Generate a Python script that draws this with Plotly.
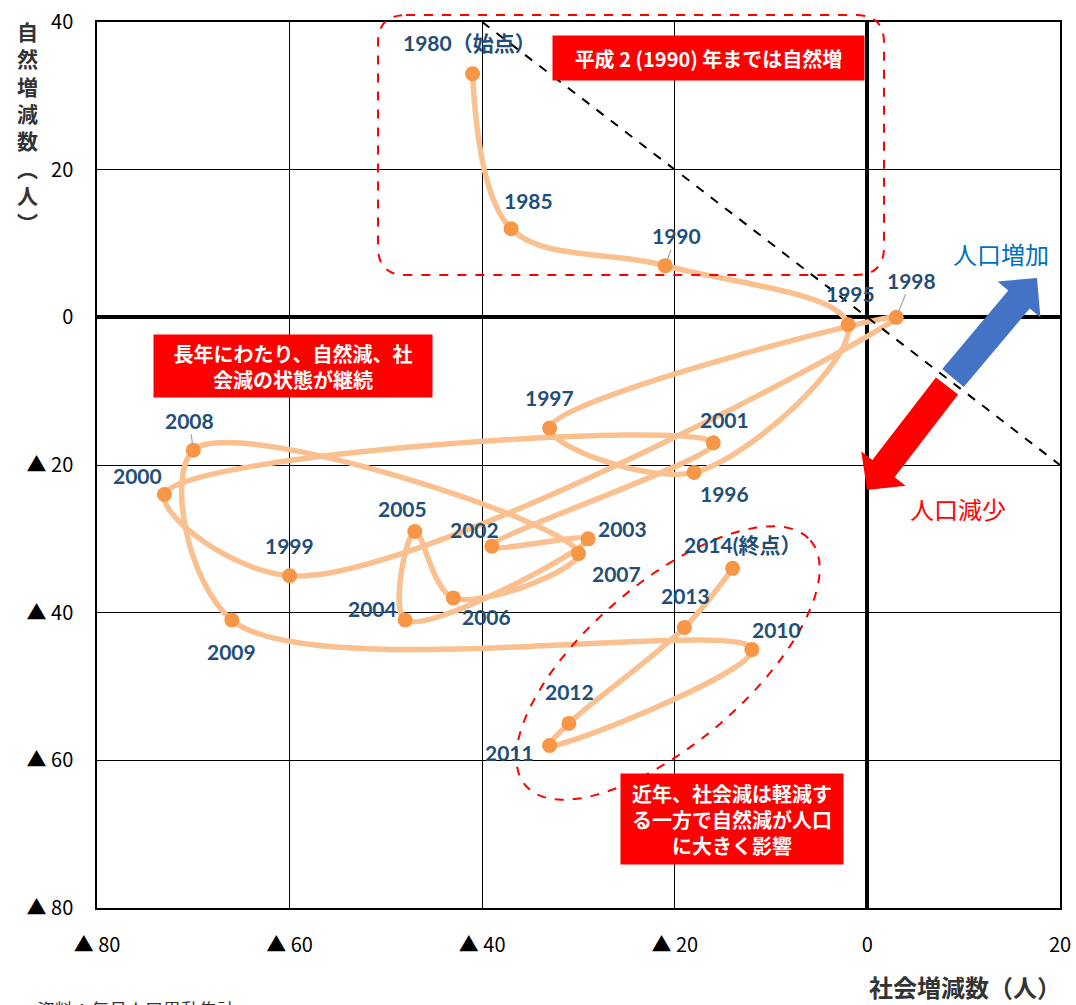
import math
import plotly.graph_objects as go

# ---------------- data ----------------
years = ["1980", "1985", "1990", "1995", "1996", "1997", "1998", "1999", "2000", "2001",
         "2002", "2003", "2004", "2005", "2006", "2007", "2008", "2009", "2010", "2011",
         "2012", "2013", "2014"]
social = [-41, -37, -21, -2, -18, -33, 3, -60, -73, -16,
          -39, -29, -48, -47, -43, -30, -70, -66, -12, -33,
          -31, -19, -14]
natural = [33, 12, 7, -1, -21, -15, 0, -35, -24, -17,
           -31, -30, -41, -29, -38, -32, -18, -41, -45, -58,
           -55, -42, -34]
label_text = {"1980": "1980（始点）", "2014": "2014(終点）"}
x_tickvals = [-80, -60, -40, -20, 0, 20]
x_ticktext = ["▲ 80", "▲ 60", "▲ 40", "▲ 20", "0", "20"]
y_tickvals = [-80, -60, -40, -20, 0, 20, 40]
y_ticktext = ["▲ 80", "▲ 60", "▲ 40", "▲ 20", "0", "20", "40"]

# ---------------- layout geometry (pixels) ----------------
W, H = 1076, 1005
L, R, T, B = 97, 1060, 22, 908


def pxx(px):  # pixel -> paper x
    return (px - L) / (R - L)


def pyy(py):  # pixel -> paper y
    return (B - py) / (B - T)


# label offsets (dx, dy in pixels, screen coords) and leader flag
label_off = {
    "1980": (-3, -31, False), "1985": (17, -28, False), "1990": (11, -30, True),
    "1995": (2, -31, False), "1996": (30, 21, False), "1997": (0, -31, False),
    "1998": (15, -37, True), "1999": (0, -30, False), "2000": (-27, -19, False),
    "2001": (11, -23, False), "2002": (-17, -17, False), "2003": (34, -10, False),
    "2004": (-33, -12, False), "2005": (-12, -23, False), "2006": (33, 19, False),
    "2007": (38, 20, False), "2008": (-4, -30, True), "2009": (0, 31, False),
    "2010": (25, -20, False), "2011": (-40, 7, False), "2012": (1, -32, False),
    "2013": (1, -32, False), "2014": (10, -24, False),
}

fig = go.Figure()
fig.add_trace(go.Scatter(
    x=social, y=natural, mode="lines+markers",
    line=dict(color="#FAC090", width=5.5, shape="spline", smoothing=1.0),
    marker=dict(color="#F79646", size=15),
    hoverinfo="skip", showlegend=False,
))

annotations = []
label_font = dict(family="Lato, Noto Sans CJK JP", size=21, color="#1F4E79")
for yr, sx, nv in zip(years, social, natural):
    dx, dy, leader = label_off[yr]
    txt = "<b>" + label_text.get(yr, yr) + "</b>"
    if leader:
        annotations.append(dict(x=sx, y=nv, xref="x", yref="y", text=txt, showarrow=True,
                                ax=dx, ay=dy, arrowhead=0, arrowwidth=1.2,
                                arrowcolor="#A6A6A6", standoff=6, font=label_font))
    else:
        annotations.append(dict(x=sx, y=nv, xref="x", yref="y", text=txt, showarrow=False,
                                xshift=dx, yshift=-dy, font=label_font,
                                xanchor="center", yanchor="middle"))

box_font = dict(family="Noto Sans CJK JP", size=20, color="white")


def paper_text(cx, cy, text, font, **kw):
    d = dict(x=pxx(cx), y=pyy(cy), xref="paper", yref="paper", text=text,
             showarrow=False, xanchor="center", yanchor="middle", font=font)
    d.update(kw)
    annotations.append(d)


def red_box(cx, cy, w, h, text):
    paper_text(cx, cy, "<b>" + text + "</b>", box_font, bgcolor="#FF0000",
               width=w, height=h, align="center", borderpad=0)


red_box(708, 58, 311, 44, "平成 2 (1990) 年までは自然増")
red_box(293, 366, 278, 62, "長年にわたり、自然減、社<br>会減の状態が継続")
red_box(732, 819, 222, 90, "近年、社会減は軽減す<br>る一方で自然減が人口<br>に大きく影響")

paper_text(1001, 253, "人口増加", dict(family="Noto Sans CJK JP", size=24, color="#0070C0"))
paper_text(958, 508, "人口減少", dict(family="Noto Sans CJK JP", size=24, color="#FF0000"))

paper_text(27, 14, "<b>自<br>然<br>増<br>減<br>数<br>︵<br>人<br>︶</b>",
           dict(family="Noto Sans CJK JP", size=21, color="#333333"),
           yanchor="top", align="center")
paper_text(965, 987, "<b>社会増減数（人）</b>",
           dict(family="Noto Sans CJK JP", size=24, color="#333333"))
paper_text(35, 1009, "資料：毎月人口異動集計",
           dict(family="Noto Sans CJK JP", size=18, color="#333333"), xanchor="left")

shapes = []
# diagonal reference line (x + y = 0)
shapes.append(dict(type="line", xref="x", yref="y", x0=-40, y0=40, x1=20, y1=-20,
                   line=dict(color="black", width=2, dash="dash")))


def P(px, py):
    return f"{pxx(px):.5f},{pyy(py):.5f}"


# rounded dashed rectangle
x0, y0, x1, y1, r = 378, 15, 884, 275, 28
rr = (f"M {P(x0 + r, y0)} L {P(x1 - r, y0)} Q {P(x1, y0)} {P(x1, y0 + r)} "
      f"L {P(x1, y1 - r)} Q {P(x1, y1)} {P(x1 - r, y1)} L {P(x0 + r, y1)} "
      f"Q {P(x0, y1)} {P(x0, y1 - r)} L {P(x0, y0 + r)} Q {P(x0, y0)} {P(x0 + r, y0)} Z")
shapes.append(dict(type="path", xref="paper", yref="paper", path=rr,
                   line=dict(color="#FF0000", width=2, dash="dash")))

# rotated dashed ellipse
cx, cy, a, b, th = 668, 663, 188, 80, math.radians(40.7)
pts = []
for i in range(73):
    t = 2 * math.pi * i / 72
    ex = cx + a * math.cos(t) * math.cos(th) + b * math.sin(t) * math.sin(th)
    ey = cy - a * math.cos(t) * math.sin(th) + b * math.sin(t) * math.cos(th)
    pts.append(P(ex, ey))
shapes.append(dict(type="path", xref="paper", yref="paper",
                   path="M " + " L ".join(pts) + " Z",
                   line=dict(color="#FF0000", width=2, dash="dash")))


def arrow(p0, p1, sw, hw, hl, color):
    dx, dy = p1[0] - p0[0], p1[1] - p0[1]
    ln = math.hypot(dx, dy)
    ux, uy = dx / ln, dy / ln
    nx, ny = -uy, ux
    hb = (p1[0] - ux * hl, p1[1] - uy * hl)
    poly = [
        (p0[0] + nx * sw / 2, p0[1] + ny * sw / 2),
        (hb[0] + nx * sw / 2, hb[1] + ny * sw / 2),
        (hb[0] + nx * hw / 2, hb[1] + ny * hw / 2),
        p1,
        (hb[0] - nx * hw / 2, hb[1] - ny * hw / 2),
        (hb[0] - nx * sw / 2, hb[1] - ny * sw / 2),
        (p0[0] - nx * sw / 2, p0[1] - ny * sw / 2),
    ]
    path = "M " + " L ".join(P(*q) for q in poly) + " Z"
    return dict(type="path", xref="paper", yref="paper", path=path,
                fillcolor=color, line=dict(width=0))


shapes.append(arrow((953, 378), (1037, 278), 28, 56, 28, "#4472C4"))
shapes.append(arrow((947, 386), (867, 490), 28, 56, 27, "#FF0000"))

axis_common = dict(showgrid=True, gridcolor="black", gridwidth=1,
                   zeroline=True, zerolinecolor="black", zerolinewidth=3.5,
                   showline=True, linecolor="black", linewidth=1.5, mirror=True,
                   automargin=False, ticks="",
                   tickfont=dict(family="Noto Sans CJK JP", size=20, color="black"))

fig.update_layout(
    width=W, height=H,
    margin=dict(l=L, r=W - R, t=T, b=H - B, autoexpand=False),
    paper_bgcolor="white", plot_bgcolor="white",
    xaxis=dict(range=[-80, 20], tickvals=x_tickvals, ticktext=x_ticktext,
               ticklabelstandoff=18, **axis_common),
    yaxis=dict(range=[-80, 40], tickvals=y_tickvals, ticktext=y_ticktext,
               ticklabelstandoff=18, **axis_common),
    annotations=annotations, shapes=shapes, showlegend=False,
)

fig.write_html("out.html")
